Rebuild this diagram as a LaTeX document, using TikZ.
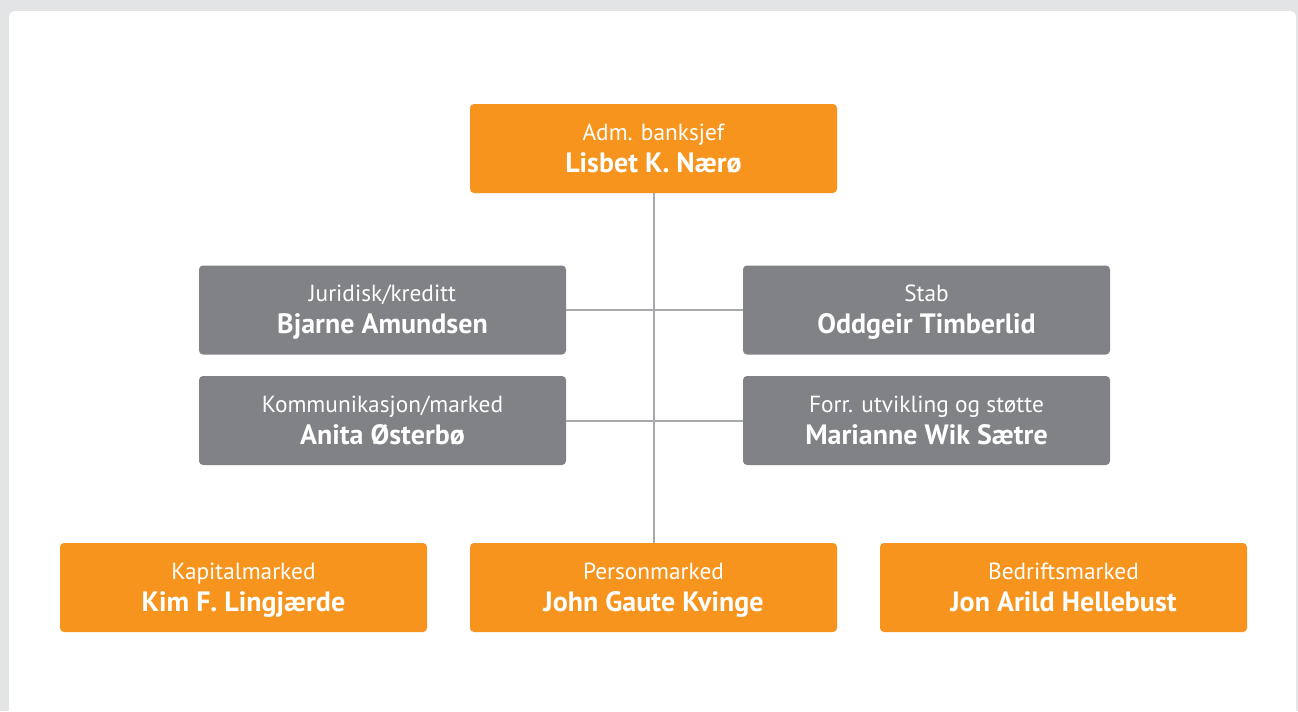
\documentclass[tikz,border=0pt]{standalone}
\usepackage{fontspec}
\setmainfont{PT Sans}
\usetikzlibrary{positioning}
\definecolor{org_orange}{RGB}{247, 148, 30}
\definecolor{org_grey}{RGB}{128, 130, 133}
\definecolor{org_line}{RGB}{167, 169, 172}
\definecolor{org_bg}{RGB}{227, 228, 229}
\tikzstyle{on}=[rectangle,rounded corners=3pt,fill=org_orange,text=white,
  inner sep=0pt,minimum width=275.25pt,minimum height=66.75pt,align=center,
  font=\fontsize{17.5}{24}\selectfont]
\tikzstyle{gy}=[on,fill=org_grey]
\tikzstyle{ln}=[draw=org_line,line width=1.5pt]
\newcommand{\pp}[2]{\rule{0pt}{18.5pt}#1\\{\fontsize{21}{24}\selectfont\bfseries\strut #2}}

\begin{document}
\begin{tikzpicture}[x=0.75pt,y=-0.75pt]
        \useasboundingbox (0, 0) rectangle (1298, 711);
        \fill[org_bg] (0, 0) rectangle (1298, 711);
        \fill[white,rounded corners=4pt] (9, 11) rectangle (1296, 740);
        % top
        \node[style=on] (ceo) at (653.5, 148.5) {\pp{Adm. banksjef}{Lisbet K. Nærø}};
        % staff
		\node[style=gy] (jur) at (382.5, 310) {\pp{Juridisk/kreditt}{Bjarne Amundsen}};
		\node[style=gy] (stab) at (926.5, 310) {\pp{Stab}{Oddgeir Timberlid}};
		\node[style=gy] (kom) at (382.5, 420.5) {\pp{Kommunikasjon/marked}{Anita Østerbø}};
		\node[style=gy] (forr) at (926.5, 420.5) {\pp{Forr. utvikling og støtte}{Marianne Wik Sætre}};
        % business areas
		\node[style=on] (kap) at (243.5, 587.5) {\pp{Kapitalmarked}{Kim F. Lingjærde}};
		\node[style=on] (pers) at (653.5, 587.5) {\pp{Personmarked}{John Gaute Kvinge}};
		\node[style=on] (bed) at (1063.5, 587.5) {\pp{Bedriftsmarked}{Jon Arild Hellebust}};
        \draw[ln] (ceo) to (pers);
		\draw[ln] (jur) to (stab);
		\draw[ln] (kom) to (forr);
    \end{tikzpicture}
\end{document}
